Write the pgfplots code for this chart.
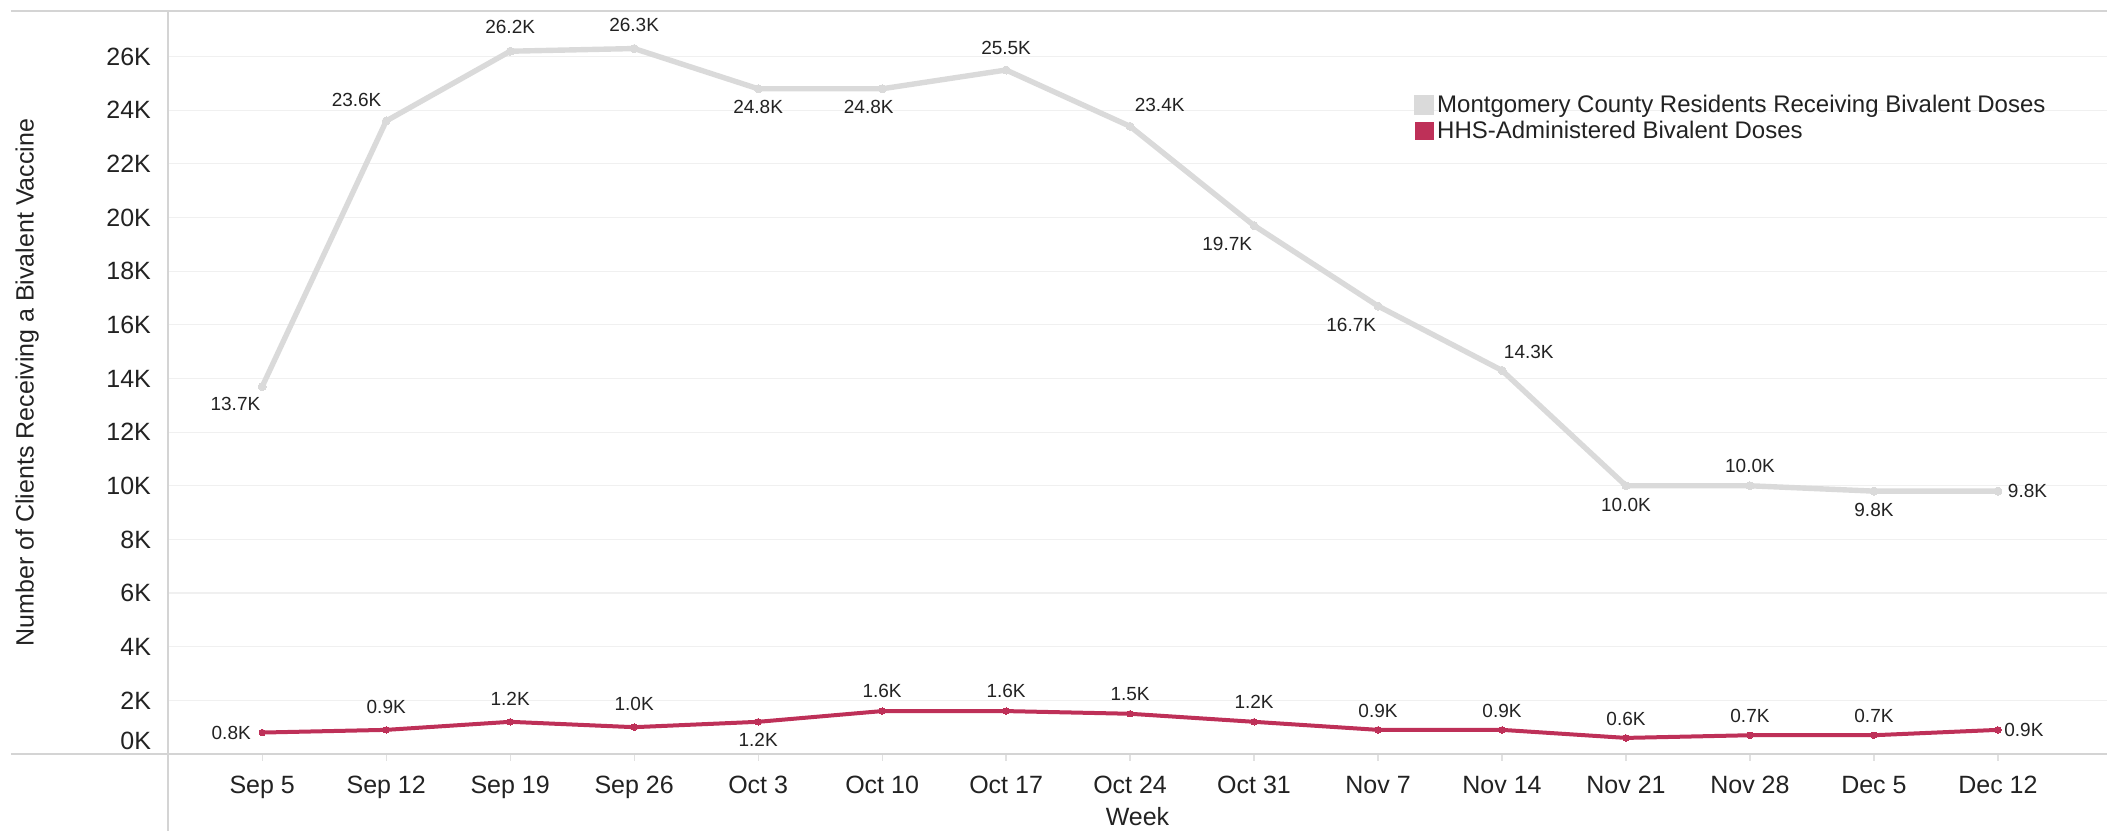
\documentclass[border=0pt]{standalone}
\usepackage{fontspec}
\setmainfont{Liberation Sans}
\usepackage{pgfplots}
\usepackage{pgfplotstable}
\pgfplotsset{compat=1.18}
\definecolor{mgray}{RGB}{218,218,218}
\definecolor{mred}{RGB}{190,48,88}
\definecolor{gridc}{RGB}{240,240,240}
\definecolor{linec}{RGB}{212,212,212}
\definecolor{tickc}{RGB}{225,225,225}
\definecolor{txt}{RGB}{34,34,34}

\pgfplotstableread{
x y lab dx dy
0 13700 13.7K -13.4 -8.5
1 23600 23.6K -14.8 10.5
2 26200 26.2K 0 12
3 26300 26.3K 0 12
4 24800 24.8K 0 -9
5 24800 24.8K -6.7 -9
6 25500 25.5K 0 11
7 23400 23.4K 14.8 10.8
8 19700 19.7K -13.4 -9.4
9 16700 16.7K -13.4 -9.4
10 14300 14.3K 13.4 9.4
11 10000 10.0K 0 -9.4
12 10000 10.0K 0 10
13 9800 9.8K 0 -9.4
14 9800 9.8K 14.8 0
}\graydata

\pgfplotstableread{
x y lab dx dy
0 800 0.8K -15.5 0
1 900 0.9K 0 11.4
2 1200 1.2K 0 11.4
3 1000 1.0K 0 11.4
4 1200 1.2K 0 -9
5 1600 1.6K 0 10
6 1600 1.6K 0 10
7 1500 1.5K 0 10
8 1200 1.2K 0 10
9 900 0.9K 0 9.4
10 900 0.9K 0 9.4
11 600 0.6K 0 9.4
12 700 0.7K 0 9.4
13 700 0.7K 0 9.4
14 900 0.9K 13 0
}\reddata

\begin{document}
\begin{tikzpicture}
\begin{axis}[
  at={(0,0)}, anchor=south west,
  width=969.5pt, height=371.5pt, scale only axis,
  xmin=-0.76, xmax=14.88, ymin=0, ymax=27700,
  clip=false,
  axis line style={draw=none},
  xtick pos=bottom, ytick pos=left,
  xtick={0,...,14},
  xticklabels={Sep 5,Sep 12,Sep 19,Sep 26,Oct 3,Oct 10,Oct 17,Oct 24,Oct 31,Nov 7,Nov 14,Nov 21,Nov 28,Dec 5,Dec 12},
  ytick={2000,4000,...,26000},
  yticklabels={2K,4K,6K,8K,10K,12K,14K,16K,18K,20K,22K,24K,26K},
  extra y ticks={0}, extra y tick labels={0K},
  extra y tick style={grid=none, ytick style={draw=none}, yticklabel style={yshift=6.7pt}},
  scaled y ticks=false,
  ymajorgrids, grid style={gridc, line width=0.6pt},
  tick label style={font=\fontsize{12.5}{15}\selectfont, text=txt},
  yticklabel style={xshift=-1.5pt},
  xticklabel style={yshift=-4pt},
  tick align=outside, major tick length=3.5pt,
  xtick style={draw=tickc, line width=0.6pt},
  ytick style={draw=none},
  xlabel={Week},
  xlabel style={at={(axis description cs:0.5,-0.0848)}, anchor=center, font=\fontsize{12.5}{15}\selectfont, text=txt},
  ylabel={Number of Clients Receiving a Bivalent Vaccine},
  ylabel style={at={(axis description cs:-0.0727,0.5)}, anchor=center, font=\fontsize{12.5}{15}\selectfont, text=txt},
  legend cell align=left,
  legend style={draw=none, fill=none, at={(axis description cs:0.6426,0.892)}, anchor=north west,
    font=\fontsize{12}{14.5}\selectfont, text=txt, row sep=0pt, inner sep=0pt, nodes={inner sep=1.5pt}},
]
\draw[linec, line width=0.9pt] (axis description cs:-0.081,1) -- (axis description cs:1,1);
\draw[linec, line width=0.9pt] (axis description cs:-0.081,0) -- (axis description cs:1,0);
\draw[linec, line width=0.9pt] (axis description cs:0,1) -- (axis description cs:0,-0.1036);

\addplot[mgray, line width=2.7pt, mark=*, mark size=2pt,
  mark options={fill=mgray, draw=mgray, line width=0pt},
  point meta=explicit symbolic, nodes near coords,
  visualization depends on={\thisrow{dx} \as \dx},
  visualization depends on={\thisrow{dy} \as \dy},
  nodes near coords style={anchor=center, inner sep=0pt, xshift=\dx pt, yshift=\dy pt,
    font=\fontsize{9.5}{11}\selectfont, text=txt},
  legend image code/.code={\fill[mgray] (0pt,-3.6pt) rectangle (7.2pt,3.6pt);}]
  table[x=x, y=y, meta=lab] {\graydata};
\addlegendentry{Montgomery County Residents Receiving Bivalent Doses}

\addplot[mred, line width=2pt, mark=*, mark size=1.6pt,
  mark options={fill=mred, draw=mred, line width=0pt},
  point meta=explicit symbolic, nodes near coords,
  visualization depends on={\thisrow{dx} \as \dx},
  visualization depends on={\thisrow{dy} \as \dy},
  nodes near coords style={anchor=center, inner sep=0pt, xshift=\dx pt, yshift=\dy pt,
    font=\fontsize{9.5}{11}\selectfont, text=txt},
  legend image code/.code={\fill[mred] (0pt,-3.6pt) rectangle (7.2pt,3.6pt);}]
  table[x=x, y=y, meta=lab] {\reddata};
\addlegendentry{HHS-Administered Bivalent Doses}
\end{axis}
\pgfresetboundingbox
\path[use as bounding box] (-84pt,-38.5pt) rectangle (969.5pt,377pt);
\end{tikzpicture}
\end{document}
